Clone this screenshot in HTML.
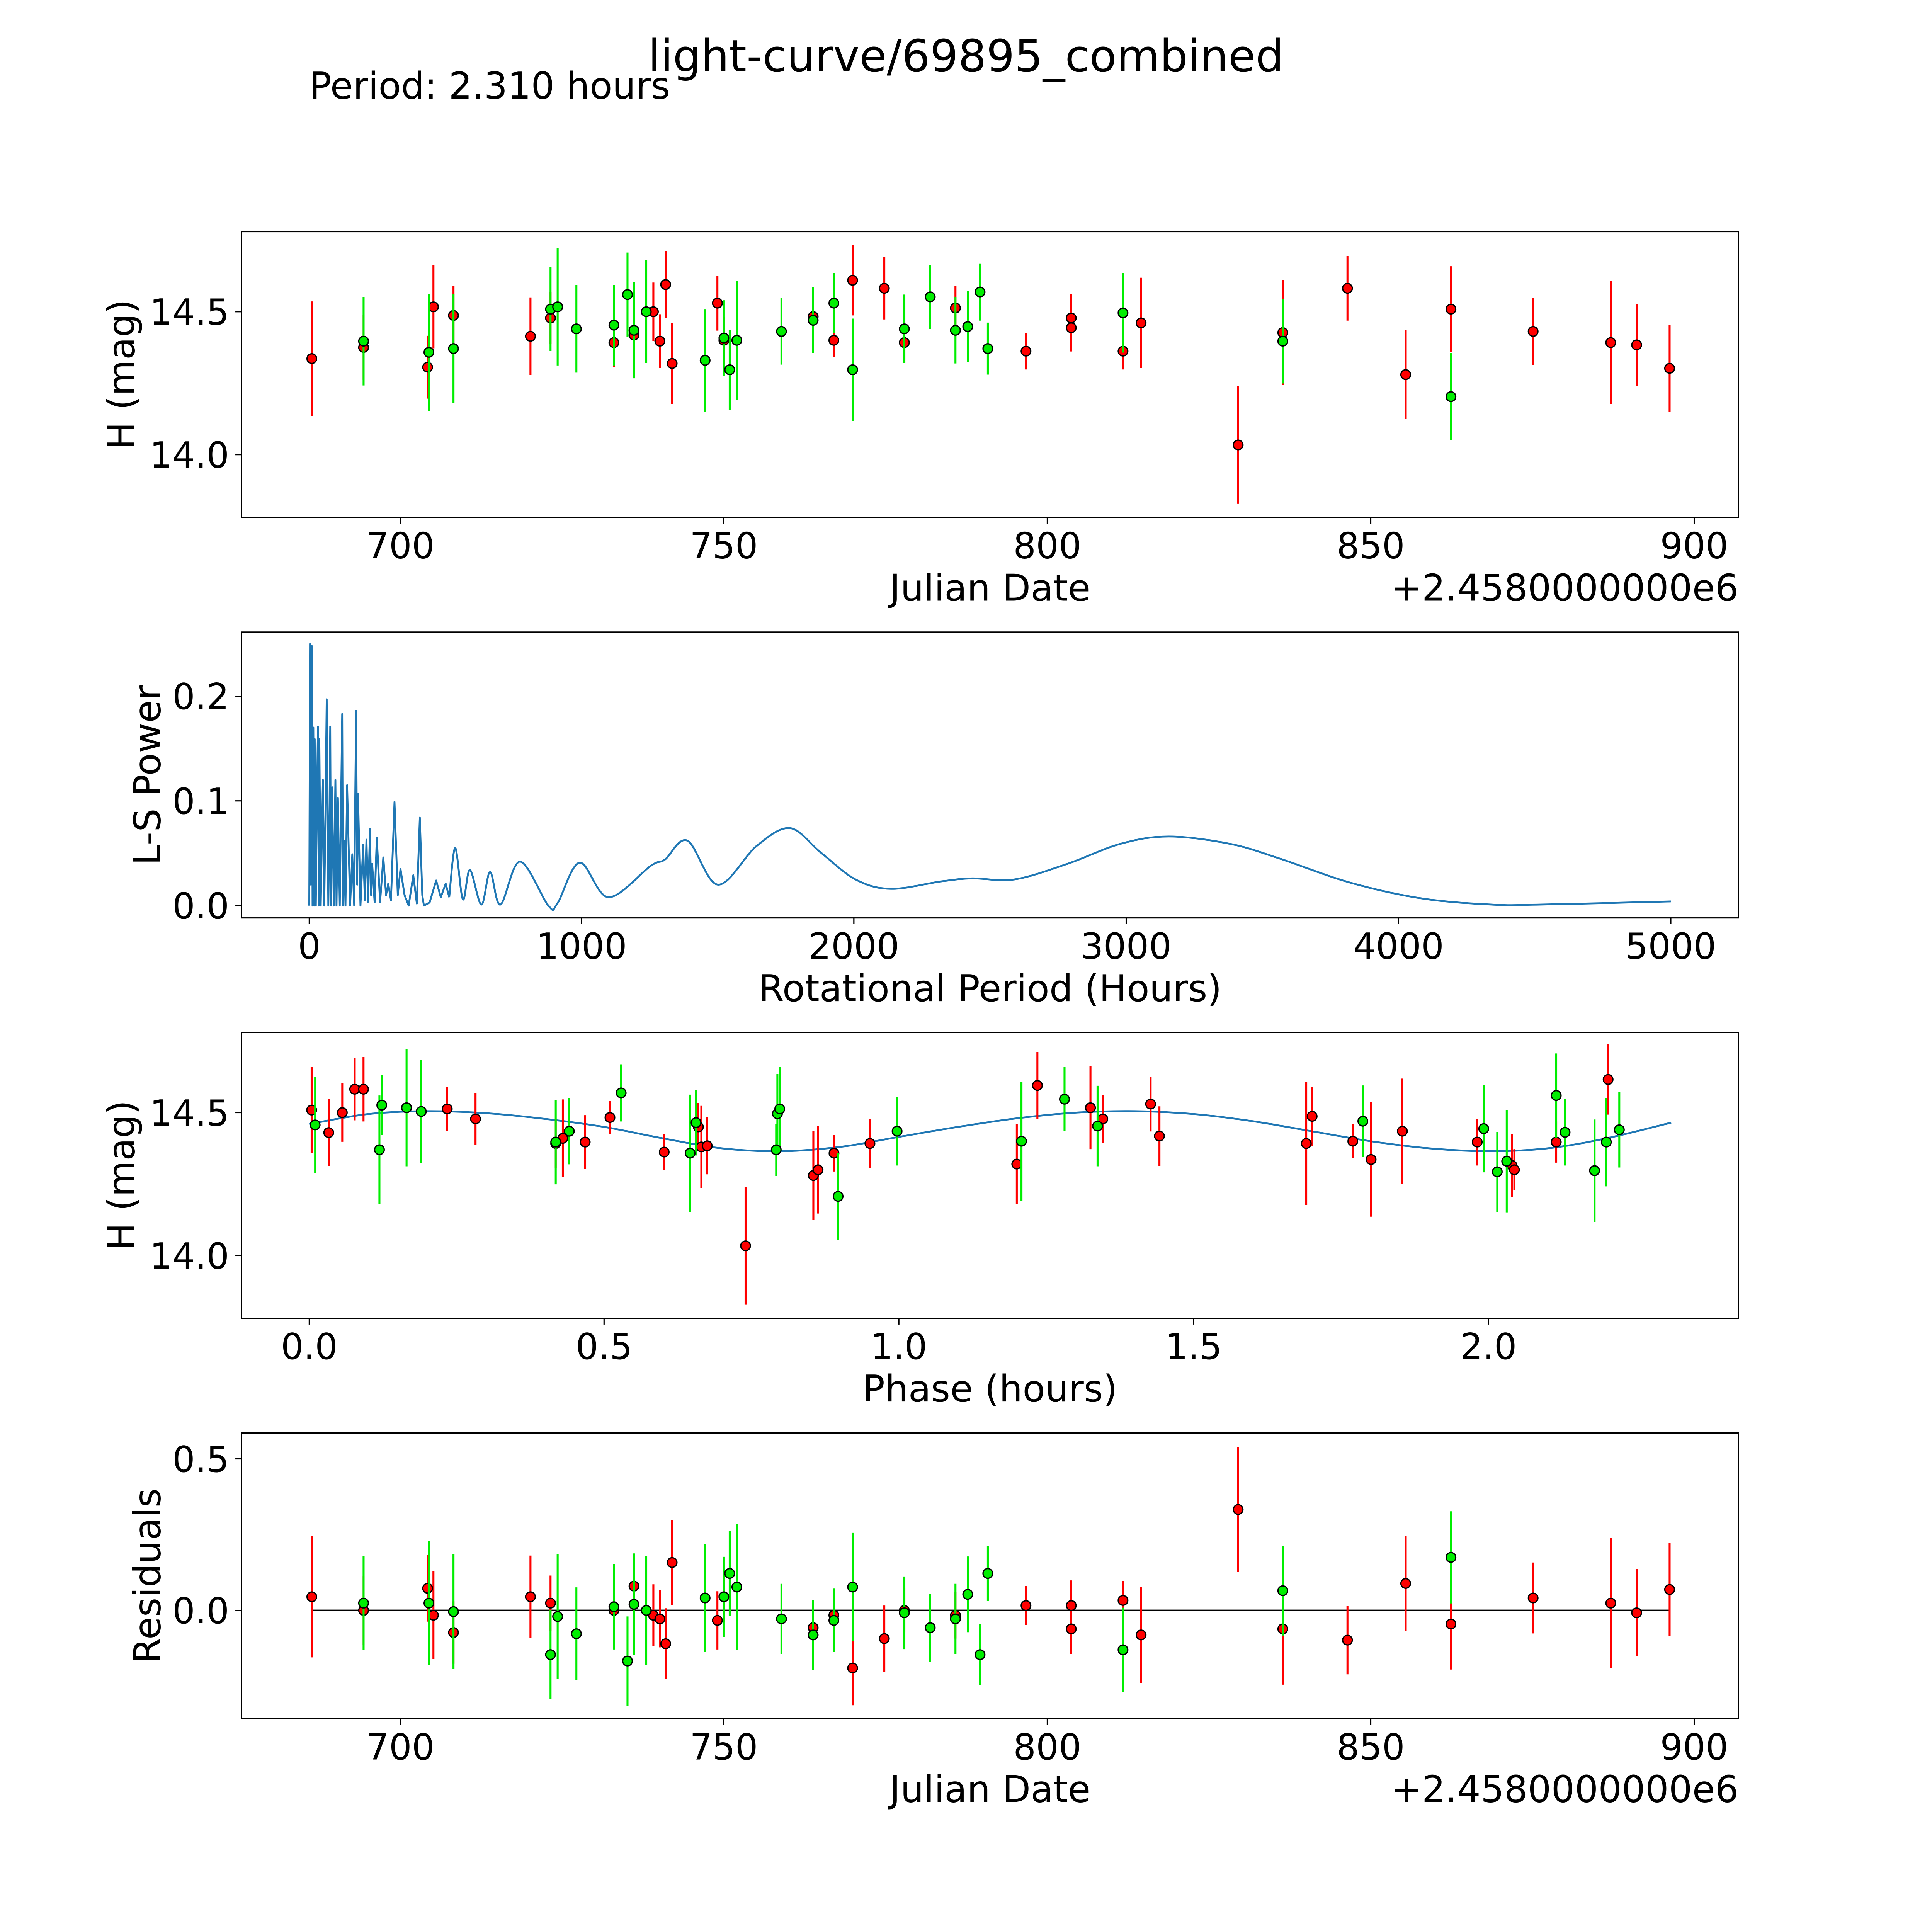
<!DOCTYPE html>
<html><head><meta charset="utf-8"><style>
html,body{margin:0;padding:0;background:#fff;overflow:hidden;width:100vw;height:100vh}
svg{display:block;position:absolute;left:0;top:0;width:100vw;height:100vh;font-family:"DejaVu Sans","Liberation Sans",sans-serif}
</style></head><body>
<svg id="fig" viewBox="0 0 1568 1568" preserveAspectRatio="none" xmlns="http://www.w3.org/2000/svg">
<rect width="1568" height="1568" fill="#fff"/>
<text x="784" y="58" font-size="36" text-anchor="middle">light-curve/69895_combined</text>
<text x="251" y="80" font-size="30">Period: 2.310 hours</text>
</svg>
<script>
// ---- Panel 1 & 4 data (Julian Date offsets) ----
const redJD = [686.3,694.3,704.2,705.1,708.2,720.1,723.2,733.0,736.1,739.1,740.1,741.0,742.0,749.0,750.0,763.8,767.0,769.9,774.8,777.9,785.8,796.7,803.7,803.7,811.7,814.5,829.5,836.4,846.4,855.4,862.4,875.1,887.1,891.1,896.2];
const redMag = [14.336,14.375,14.306,14.517,14.487,14.414,14.478,14.392,14.418,14.50,14.397,14.595,14.319,14.53,14.40,14.483,14.40,14.61,14.582,14.392,14.513,14.362,14.478,14.444,14.362,14.461,14.034,14.427,14.582,14.28,14.509,14.431,14.392,14.384,14.302];
const redErr = [0.2,0.113,0.11,0.145,0.103,0.136,0.091,0.085,0.104,0.102,0.094,0.117,0.141,0.096,0.082,0.057,0.059,0.123,0.109,0.072,0.077,0.064,0.083,0.083,0.064,0.158,0.206,0.184,0.113,0.156,0.15,0.117,0.215,0.144,0.153];
const redRes = [0.045,0.0,0.073,-0.016,-0.073,0.045,0.024,0.0,0.08,-0.016,-0.028,-0.11,0.158,-0.033,0.045,-0.057,-0.016,-0.19,-0.093,0.0,-0.016,0.016,0.016,-0.061,0.033,-0.081,0.333,-0.061,-0.098,0.089,-0.045,0.041,0.024,-0.008,0.069];
const grnJD = [694.3,704.4,708.2,723.2,724.3,727.2,733.0,735.1,736.1,738.0,747.1,750.0,750.9,752.0,758.9,763.8,767.0,769.9,777.9,781.9,785.8,787.7,789.6,790.8,811.7,836.4,862.4];
const grnMag = [14.397,14.358,14.371,14.509,14.517,14.44,14.453,14.56,14.435,14.50,14.33,14.408,14.297,14.40,14.431,14.47,14.53,14.297,14.44,14.552,14.435,14.448,14.569,14.371,14.496,14.397,14.203];
const grnErr = [0.155,0.205,0.19,0.147,0.205,0.153,0.141,0.147,0.168,0.18,0.179,0.132,0.14,0.208,0.116,0.115,0.105,0.179,0.12,0.112,0.116,0.125,0.1,0.091,0.139,0.148,0.152];
const grnRes = [0.024,0.024,-0.004,-0.146,-0.02,-0.077,0.012,-0.167,0.02,0.0,0.041,0.045,0.122,0.077,-0.028,-0.081,-0.033,0.077,-0.008,-0.057,-0.028,0.053,-0.146,0.122,-0.13,0.065,0.175];
// ---- Panel 3 data (phase in hours) ----
const redPhase = [0.004,0.033,0.056,0.077,0.092,0.234,0.282,0.418,0.43,0.468,0.51,0.602,0.66,0.665,0.675,0.74,0.855,0.863,0.89,0.951,1.2,1.235,1.325,1.346,1.427,1.442,1.691,1.701,1.77,1.801,1.854,1.981,2.04,2.044,2.115,2.203];
const redPhMag = [14.509,14.43,14.5,14.582,14.582,14.513,14.478,14.392,14.41,14.397,14.483,14.362,14.45,14.38,14.384,14.034,14.28,14.30,14.358,14.392,14.32,14.595,14.517,14.478,14.53,14.418,14.392,14.487,14.40,14.336,14.435,14.397,14.315,14.30,14.397,14.616];
const redPhErr = [0.15,0.117,0.102,0.109,0.113,0.077,0.091,0.085,0.136,0.094,0.057,0.064,0.083,0.144,0.1,0.206,0.156,0.153,0.064,0.085,0.141,0.117,0.145,0.083,0.096,0.104,0.215,0.103,0.059,0.2,0.184,0.082,0.11,0.072,0.072,0.123];
const grnPhase = [0.01,0.119,0.123,0.165,0.19,0.418,0.441,0.529,0.646,0.656,0.792,0.794,0.798,0.897,0.997,1.208,1.281,1.337,1.787,1.992,2.015,2.031,2.115,2.13,2.18,2.2,2.222];
const grnPhMag = [14.457,14.37,14.526,14.517,14.504,14.397,14.435,14.569,14.358,14.465,14.37,14.496,14.513,14.207,14.435,14.40,14.547,14.453,14.47,14.444,14.293,14.33,14.56,14.431,14.297,14.397,14.44];
const grnPhErr = [0.168,0.19,0.105,0.205,0.18,0.148,0.116,0.1,0.205,0.115,0.091,0.139,0.147,0.152,0.12,0.208,0.112,0.141,0.125,0.153,0.14,0.179,0.147,0.116,0.179,0.155,0.132];
const modelPhase = [0,0.1,0.2,0.3,0.4,0.5,0.6,0.7,0.8,0.9,1.0,1.1,1.2,1.3,1.4,1.5,1.6,1.7,1.8,1.9,2.0,2.1,2.2,2.31];
const modelMag = [14.46,14.495,14.505,14.498,14.478,14.45,14.41,14.375,14.365,14.38,14.415,14.45,14.48,14.50,14.505,14.495,14.47,14.435,14.40,14.375,14.365,14.375,14.41,14.465];
// ---- Panel 2 periodogram (spiky part) ----
const lsPeriodA = [0,3,6,9,12,15,18,20,24,28,32,35,37,42,50,55,60,64,70,74,77,80,84,90,96,100,105,112,121,124,127,133,139,150,158,165,172,176,179,188,198,204,210,216,223,227,231,240,248,260,272,282,290,300,313,325,335,350,365,382,395,406,415,421,442,466,483,501,514];
const lsPowerA  = [0,0.25,0.02,0.248,0,0.17,0,0.159,0,0.1,0.171,0,0.159,0,0.12,0,0.1,0.197,0,0.08,0.171,0,0.113,0,0.12,0,0.103,0,0.183,0,0.062,0,0.115,0,0.049,0,0.186,0.02,0.107,0,0.058,0.005,0.063,0.003,0.073,0.01,0.04,0.003,0.065,0.003,0.046,0.01,0.021,0.005,0.099,0.01,0.035,0.01,0,0.029,0.002,0.084,0.01,0,0.003,0.024,0.008,0.021,0.008];
// ---- Panel 2 periodogram (smooth part) ----
const lsPeriodB = [514,536,564,590,632,664,702,774,878,911,993,1099,1254,1306,1389,1501,1643,1765,1877,2006,2136,2318,2434,2590,2785,2979,3156,3381,3563,3822,4082,4341,4523,5000];
const lsPowerB  = [0.008,0.055,0.006,0.034,0.001,0.032,0.001,0.042,0,0.002,0.041,0.008,0.038,0.044,0.062,0.02,0.057,0.074,0.051,0.025,0.016,0.023,0.026,0.025,0.04,0.059,0.066,0.059,0.045,0.022,0.007,0.001,0.001,0.004];

const NS='http://www.w3.org/2000/svg';
const svg=document.getElementById('fig');
function el(tag,attrs,parent){const e=document.createElementNS(NS,tag);for(const k in attrs)e.setAttribute(k,attrs[k]);(parent||svg).appendChild(e);return e;}
function lin(d0,d1,p0,p1){return v=>p0+(v-d0)*(p1-p0)/(d1-d0);}
const L=196,R=1411;
const TF=29,LF=30;

function axesFrame(name,top,bot,xs,xticks,xfmt,ys,yticks,yfmt,xlabel,ylabel,offset){
  const g=el('g',{});
  
  
  const f=el('rect',{x:L,y:top,width:R-L,height:bot-top,fill:'none',stroke:'#000','stroke-width':1},g);
  
  
  xticks.forEach(t=>{const x=xs(t);el('line',{x1:x,x2:x,y1:bot,y2:bot+5,stroke:'#000'},g);
    const tx=el('text',{x:x,y:bot+33,'font-size':TF,'text-anchor':'middle'},g);tx.textContent=xfmt(t);
    
    });
  yticks.forEach(t=>{const y=ys(t);el('line',{x1:L-5,x2:L,y1:y,y2:y,stroke:'#000'},g);
    const tx=el('text',{x:L-10,y:y+10.5,'font-size':TF,'text-anchor':'end'},g);tx.textContent=yfmt(t);
    
    });
  const xl=el('text',{x:803.5,y:bot+67.5,'font-size':LF,'text-anchor':'middle'},g);xl.textContent=xlabel;
  
  
  const cy=(top+bot)/2;
  const yl=el('text',{x:0,y:0,'font-size':LF,'text-anchor':'middle',transform:`translate(${ylabel[1]},${cy}) rotate(-90)`},g);yl.textContent=ylabel[0];
  
  
  if(offset){const o=el('text',{x:R,y:bot+67.5,'font-size':LF,'text-anchor':'end'},g);o.textContent=offset;
    
    }
}
function points(xs,ys,X,Y,E,color,name){
  X.forEach((v,i)=>{const x=xs(v);const y1=ys(Y[i]+E[i]),y2=ys(Y[i]-E[i]);
    const l=el('line',{x1:x,x2:x,y1:y1,y2:y2,stroke:color,'stroke-width':1.6});
    
    });
  X.forEach((v,i)=>{const c=el('circle',{cx:xs(v),cy:ys(Y[i]),r:3.9,fill:color,stroke:'#000','stroke-width':1});
    
    });
}
function smoothPath(pts){let d=`M${pts[0][0]},${pts[0][1]}`;
  for(let i=0;i<pts.length-1;i++){const p0=pts[i-1]||pts[i],p1=pts[i],p2=pts[i+1],p3=pts[i+2]||p2;
    d+=` C${p1[0]+(p2[0]-p0[0])/6},${p1[1]+(p2[1]-p0[1])/6} ${p2[0]-(p3[0]-p1[0])/6},${p2[1]-(p3[1]-p1[1])/6} ${p2[0]},${p2[1]}`;}
  return d;}

const RED='#ff0000',GRN='#00ee00';
// Panel 1
const jx=lin(700,900,325,1375);
const m1=lin(14.0,14.5,369,253);
axesFrame('lightcurve-panel',188,420,jx,[700,750,800,850,900],t=>t,m1,[14.0,14.5],t=>t.toFixed(1),'Julian Date',['H (mag)',109],'+2.4580000000e6');
points(jx,m1,redJD,redMag,redErr,RED,'red-obs');
points(jx,m1,grnJD,grnMag,grnErr,GRN,'green-obs');
// Panel 2
const px=lin(0,5000,251,1356),py=lin(0,0.2,735,565);
axesFrame('periodogram-panel',513,745,px,[0,1000,2000,3000,4000,5000],t=>t,py,[0,0.1,0.2],t=>t.toFixed(1),'Rotational Period (Hours)',['L-S Power',130]);
const lsA=el('polyline',{points:lsPeriodA.map((p,i)=>px(p)+','+py(lsPowerA[i])).join(' '),fill:'none',stroke:'#1f77b4','stroke-width':1.5,'stroke-linejoin':'round'});


const lsB=el('path',{d:smoothPath(lsPeriodB.map((p,i)=>[px(p),py(lsPowerB[i])])),fill:'none',stroke:'#1f77b4','stroke-width':1.5});


// Panel 3
const phx=lin(0,2,251,1208),m3=lin(14.0,14.5,1019,903);
axesFrame('phase-panel',838,1070,phx,[0,0.5,1,1.5,2],t=>t.toFixed(1),m3,[14.0,14.5],t=>t.toFixed(1),'Phase (hours)',['H (mag)',109]);
const mp=el('path',{d:smoothPath(modelPhase.map((p,i)=>[phx(p),m3(modelMag[i])])),fill:'none',stroke:'#1f77b4','stroke-width':1.5});


points(phx,m3,redPhase,redPhMag,redPhErr,RED,'red-phase');
points(phx,m3,grnPhase,grnPhMag,grnPhErr,GRN,'green-phase');
// Panel 4
const ry=lin(0,0.5,1307,1184);
axesFrame('residuals-panel',1163,1395,jx,[700,750,800,850,900],t=>t,ry,[0,0.5],t=>t.toFixed(1),'Julian Date',['Residuals',130],'+2.4580000000e6');
const zl=el('line',{x1:jx(686.3),x2:jx(896.2),y1:ry(0),y2:ry(0),stroke:'#000','stroke-width':1.3});


points(jx,ry,redJD,redRes,redErr,RED,'red-residual');
points(jx,ry,grnJD,grnRes,grnErr,GRN,'green-residual');
</script>
</body></html>
